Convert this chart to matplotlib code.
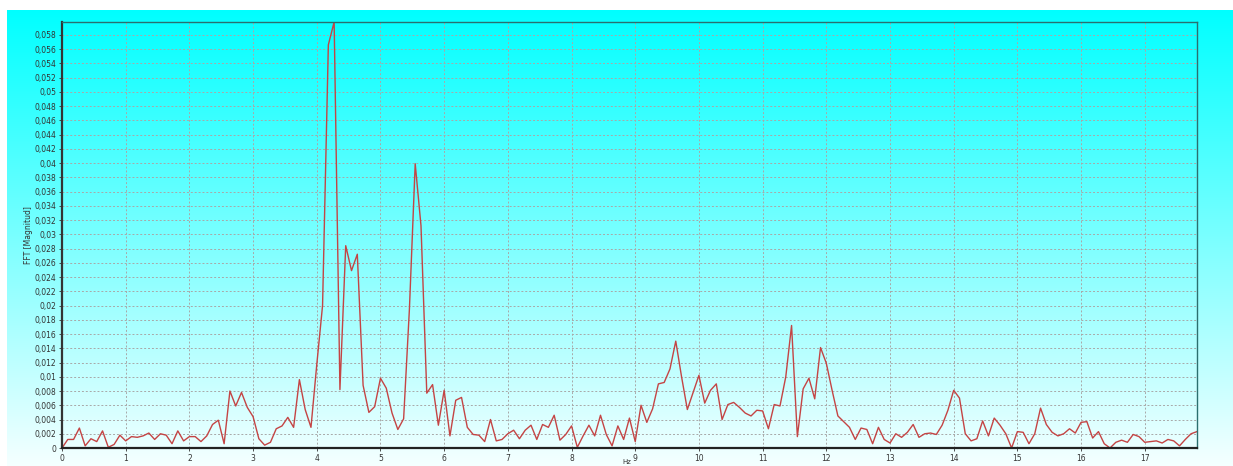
import numpy as np
import matplotlib
matplotlib.use("Agg")
import matplotlib.pyplot as plt

# FFT magnitude, one value per frequency bin (bin width ~1/11 Hz)
df = 1.0 / 11.0
magnitude = [
    0.0000, 0.0012, 0.0012, 0.0028, 0.0003, 0.0013, 0.0009, 0.0024, 0.0001, 0.0005,
    0.0018, 0.0010, 0.0016, 0.0015, 0.0017, 0.0021, 0.0012, 0.0020, 0.0018, 0.0006,
    0.0024, 0.0010, 0.0016, 0.0016, 0.0009, 0.0017, 0.0033, 0.0039, 0.0006, 0.0080,
    0.0059, 0.0078, 0.0057, 0.0044, 0.0013, 0.0004, 0.0008, 0.0027, 0.0031, 0.0043,
    0.0029, 0.0096, 0.0054, 0.0029, 0.0117, 0.0200, 0.0566, 0.0598, 0.0082, 0.0284,
    0.0249, 0.0272, 0.0088, 0.0050, 0.0058, 0.0098, 0.0084, 0.0049, 0.0026, 0.0041,
    0.0195, 0.0399, 0.0312, 0.0077, 0.0089, 0.0032, 0.0081, 0.0017, 0.0067, 0.0071,
    0.0029, 0.0019, 0.0018, 0.0009, 0.0040, 0.0010, 0.0012, 0.0020, 0.0025, 0.0013,
    0.0025, 0.0032, 0.0012, 0.0033, 0.0029, 0.0046, 0.0011, 0.0019, 0.0031, 0.0001,
    0.0017, 0.0032, 0.0017, 0.0046, 0.0019, 0.0003, 0.0031, 0.0012, 0.0042, 0.0009,
    0.0060, 0.0036, 0.0055, 0.0090, 0.0092, 0.0111, 0.0150, 0.0100, 0.0054, 0.0078,
    0.0102, 0.0063, 0.0081, 0.0090, 0.0040, 0.0061, 0.0064, 0.0057, 0.0049, 0.0045,
    0.0053, 0.0052, 0.0027, 0.0061, 0.0059, 0.0100, 0.0172, 0.0016, 0.0083, 0.0098,
    0.0069, 0.0141, 0.0119, 0.0081, 0.0045, 0.0037, 0.0029, 0.0012, 0.0028, 0.0026,
    0.0006, 0.0029, 0.0012, 0.0007, 0.0020, 0.0015, 0.0022, 0.0033, 0.0015, 0.0020,
    0.0021, 0.0019, 0.0032, 0.0053, 0.0081, 0.0070, 0.0020, 0.0010, 0.0013, 0.0038,
    0.0017, 0.0042, 0.0032, 0.0020, 0.0000, 0.0023, 0.0022, 0.0006, 0.0020, 0.0056,
    0.0033, 0.0022, 0.0017, 0.0020, 0.0027, 0.0021, 0.0036, 0.0037, 0.0014, 0.0023,
    0.0006, 0.0000, 0.0008, 0.0011, 0.0008, 0.0019, 0.0016, 0.0008, 0.0009, 0.0010,
    0.0007, 0.0012, 0.0010, 0.0003, 0.0012, 0.0020, 0.0023,
]
x_ticks = list(range(0, 18))
y_ticks = [round(0.002 * i, 3) for i in range(0, 30)]

freq = np.arange(len(magnitude)) * df

W, H = 1233, 466
fig = plt.figure(figsize=(W / 100, H / 100), dpi=100)
fig.patch.set_facecolor("white")

# cyan -> white gradient panel behind the plot
bg = fig.add_axes([7 / W, 0, 1 - 7 / W, 456 / H])
grad = np.linspace(0, 1, 256)[:, None]
top = np.array([0.0, 1.0, 1.0])
bottom = np.array([0.96, 1.0, 1.0])
img = top[None, None, :] * (1 - grad[..., None]) + bottom[None, None, :] * grad[..., None]
img = np.repeat(img, 2, axis=1)
bg.imshow(img, aspect="auto", extent=[0, 1, 0, 1])
bg.axis("off")

ax = fig.add_axes([62 / W, 1 - 448 / H, (1197 - 62) / W, (448 - 22) / H])
ax.set_facecolor("none")
ax.plot(freq, magnitude, color="#c44444", lw=1.0)

ax.set_xlim(0, 17.82)
ax.set_ylim(0, 0.0598)
ax.set_xticks(x_ticks)
ax.set_xticklabels([str(v) for v in x_ticks])
ax.set_yticks(y_ticks)
ax.set_yticklabels([f"{v:g}".replace(".", ",") for v in y_ticks])
ax.tick_params(labelsize=5.5, colors="#333333", length=2, width=0.6, pad=2)

ax.grid(True, color="#a8a8a8", linestyle=(0, (2, 2)), lw=0.7)
ax.set_axisbelow(True)

ax.spines["left"].set_color("#333333")
ax.spines["left"].set_linewidth(1.6)
ax.spines["bottom"].set_color("#222222")
ax.spines["bottom"].set_linewidth(1.6)
ax.spines["bottom"].set_linestyle((0, (3, 1)))
for s in ("top", "right"):
    ax.spines[s].set_color("#2b6f6f")
    ax.spines[s].set_linewidth(1.0)

ax.set_ylabel("FFT [Magnitud]", fontsize=5.5, color="#333333", labelpad=1)
# x label sits at the very bottom of the panel, under the tick labels
fig.text(627 / W, 1 / H, "Hz", fontsize=5, color="#333333", ha="center", va="bottom")

fig.savefig("out.png", dpi=100)
